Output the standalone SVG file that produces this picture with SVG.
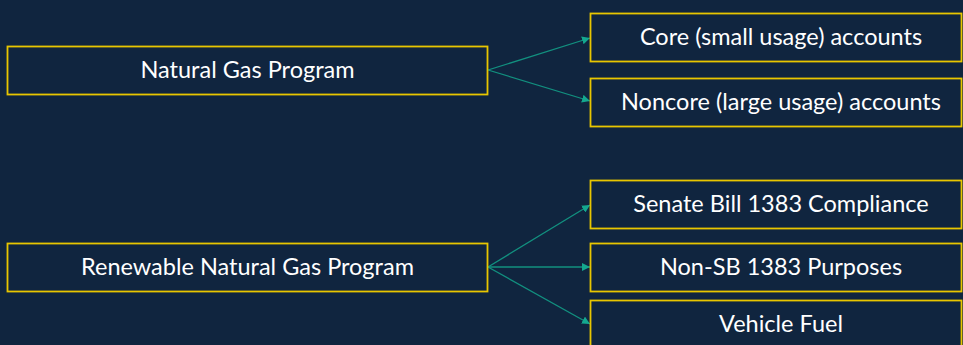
<svg xmlns="http://www.w3.org/2000/svg" width="963" height="345" viewBox="0 0 963 345">
<defs>
<style>
.box{fill:#10253f;stroke:#e8c600;stroke-width:1.8}
.t{font-family:Lato,"Open Sans",sans-serif;font-size:23.5px;fill:#ffffff;text-anchor:middle;dominant-baseline:central}
.c{stroke:#12907f;stroke-width:1.3;fill:none;marker-end:url(#ah)}
</style>
<marker id="ah" viewBox="0 0 10 10" refX="10" refY="5" markerWidth="8" markerHeight="8" markerUnits="userSpaceOnUse" orient="auto">
<path d="M0,0 L10,5 L0,10 Z" fill="#14a88f"/>
</marker>
</defs>
<rect width="963" height="345" fill="#10253f"/>
<g id="connectors">
<line class="c" x1="488" y1="70" x2="590" y2="38"/>
<line class="c" x1="488" y1="70" x2="590" y2="101"/>
<line class="c" x1="488" y1="267" x2="590" y2="205"/>
<line class="c" x1="488" y1="267" x2="590" y2="267"/>
<line class="c" x1="488" y1="267" x2="590" y2="324"/>
</g>
<g id="natural-gas">
<rect class="box" x="7.5" y="46.5" width="480" height="48"/>
<text class="t" x="247.5" y="68.5">Natural Gas Program</text>
</g>
<g id="renewable">
<rect class="box" x="7.5" y="243.5" width="480" height="48"/>
<text class="t" x="247.5" y="265.5">Renewable Natural Gas Program</text>
</g>
<g id="core">
<rect class="box" x="590.5" y="13.5" width="371" height="48"/>
<text class="t" x="781" y="35.5">Core (small usage) accounts</text>
</g>
<g id="noncore">
<rect class="box" x="590.5" y="78.5" width="371" height="48"/>
<text class="t" x="781" y="100.5">Noncore (large usage) accounts</text>
</g>
<g id="sb1383">
<rect class="box" x="590.5" y="180.5" width="371" height="48"/>
<text class="t" x="781" y="202.5">Senate Bill 1383 Compliance</text>
</g>
<g id="nonsb">
<rect class="box" x="590.5" y="243.5" width="371" height="48"/>
<text class="t" x="781" y="265.5">Non-SB 1383 Purposes</text>
</g>
<g id="vehicle">
<rect class="box" x="590.5" y="300.5" width="371" height="48"/>
<text class="t" x="781" y="322.5">Vehicle Fuel</text>
</g>
</svg>
